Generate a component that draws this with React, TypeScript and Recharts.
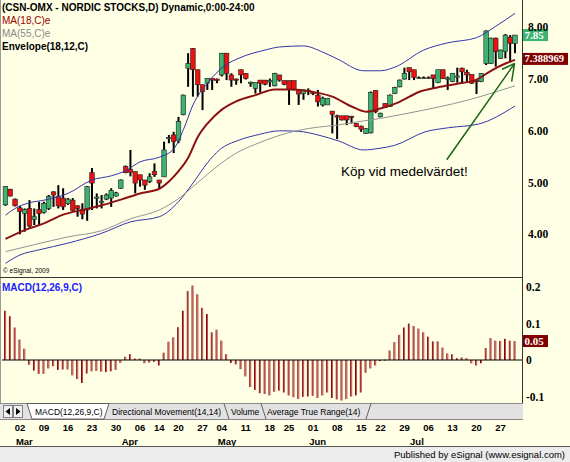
import React from 'react';
import { ComposedChart, Bar, Line, XAxis, YAxis, ReferenceLine } from 'recharts';

// ---------------- data ----------------
const candleOpen = [4.57, 4.87, 4.68, 4.51, 4.40, 4.50, 4.29, 4.48, 4.42, 4.50,
  4.82, 4.73, 4.70, 4.59, 4.66, 4.55, 4.48, 4.47, 5.19, 4.70,
  4.62, 4.68, 4.70, 4.74, 4.89, 5.31, 5.25, 5.21, 5.15, 5.05,
  5.02, 5.21, 5.05, 5.11, 5.85, 5.92, 5.82, 6.31, 7.21, 7.59,
  7.18, 6.89, 6.92, 7.01, 7.00, 7.08, 7.50, 7.08, 7.00, 7.18,
  7.11, 6.93, 6.82, 6.98, 6.98, 6.95, 6.87, 7.08, 6.97, 6.97,
  6.97, 6.79, 6.72, 6.76, 6.74, 6.69, 6.50, 6.50, 6.38, 6.29,
  6.29, 6.29, 6.28, 6.14, 6.09, 5.95, 5.96, 6.78, 6.27, 6.53,
  6.47, 6.72, 6.85, 7.00, 7.22, 7.18, 7.03, 7.03, 7.03, 7.08,
  6.93, 7.18, 7.00, 6.95, 7.05, 7.21, 7.13, 7.09, 6.97, 6.95,
  7.30, 7.30, 7.79, 7.40, 7.53, 7.81, 7.69];
const candleHigh = [4.93, 4.88, 4.69, 4.55, 4.50, 4.66, 4.50, 4.63, 4.63, 4.76,
  4.83, 4.95, 4.89, 4.70, 4.70, 4.56, 4.60, 4.93, 5.28, 4.79,
  4.76, 4.79, 4.89, 4.82, 5.06, 5.33, 5.63, 5.21, 5.15, 5.05,
  5.18, 5.37, 5.05, 5.79, 5.92, 5.98, 6.27, 6.70, 7.50, 7.60,
  7.18, 6.89, 7.01, 7.01, 7.01, 7.50, 7.50, 7.11, 7.01, 7.18,
  7.11, 6.95, 6.93, 6.98, 6.98, 7.01, 7.12, 7.08, 6.97, 6.97,
  6.97, 6.79, 6.79, 6.82, 6.75, 6.79, 6.66, 6.63, 6.38, 6.31,
  6.29, 6.29, 6.29, 6.15, 6.10, 6.05, 6.76, 6.78, 6.35, 6.53,
  6.70, 6.85, 6.99, 7.22, 7.22, 7.18, 7.05, 7.05, 7.05, 7.08,
  7.18, 7.18, 7.05, 7.11, 7.22, 7.22, 7.18, 7.09, 6.98, 7.11,
  7.94, 7.80, 7.80, 7.57, 7.87, 7.85, 7.85];
const candleLow = [4.55, 4.73, 4.54, 4.00, 4.05, 4.13, 4.18, 4.18, 4.40, 4.47,
  4.53, 4.50, 4.47, 4.57, 4.45, 4.34, 4.29, 4.26, 4.47, 4.50,
  4.50, 4.66, 4.53, 4.73, 4.88, 5.18, 5.12, 4.79, 4.92, 4.86,
  4.99, 5.11, 4.89, 5.11, 5.76, 5.57, 5.76, 6.30, 6.85, 6.66,
  6.66, 6.40, 6.79, 6.79, 6.92, 7.05, 6.98, 6.85, 6.89, 6.92,
  6.99, 6.85, 6.72, 6.74, 6.88, 6.85, 6.86, 6.95, 6.88, 6.50,
  6.78, 6.50, 6.60, 6.69, 6.69, 6.47, 6.47, 6.50, 5.95, 5.84,
  6.20, 6.11, 6.14, 6.07, 5.98, 5.94, 5.95, 6.34, 6.26, 6.44,
  6.46, 6.71, 6.84, 6.99, 6.98, 6.98, 7.02, 7.02, 7.02, 6.82,
  6.92, 7.00, 6.79, 6.94, 6.93, 6.92, 6.95, 6.91, 6.71, 6.94,
  7.27, 7.29, 7.24, 7.39, 7.40, 7.32, 7.50];
const candleClose = [4.92, 4.74, 4.55, 4.44, 4.48, 4.16, 4.34, 4.40, 4.60, 4.73,
  4.76, 4.55, 4.53, 4.68, 4.46, 4.50, 4.39, 4.92, 4.99, 4.72,
  4.64, 4.76, 4.85, 4.80, 5.05, 5.19, 5.20, 4.99, 5.05, 4.95,
  5.11, 5.15, 4.99, 5.63, 5.87, 5.79, 6.18, 6.69, 7.30, 7.18,
  6.89, 6.76, 7.01, 6.98, 6.97, 7.50, 7.11, 6.98, 6.99, 7.08,
  7.01, 6.94, 6.93, 6.92, 6.90, 6.97, 7.11, 6.98, 6.90, 6.80,
  6.80, 6.71, 6.79, 6.78, 6.72, 6.56, 6.63, 6.63, 6.32, 6.28,
  6.21, 6.21, 6.26, 6.08, 6.03, 6.04, 6.74, 6.37, 6.34, 6.45,
  6.69, 6.84, 6.98, 7.11, 7.14, 7.03, 7.03, 7.03, 7.03, 7.01,
  7.18, 7.01, 7.02, 7.11, 7.06, 7.14, 7.08, 6.92, 6.96, 7.11,
  7.93, 7.79, 7.53, 7.56, 7.85, 7.69, 7.85];

const macdHist = [0.135, 0.120, 0.089, 0.056, 0.031, -0.013, -0.029, -0.038, -0.038, -0.023,
  -0.017, -0.027, -0.026, -0.026, -0.042, -0.052, -0.063, -0.037, -0.031, -0.030,
  -0.032, -0.033, -0.031, -0.027, -0.008, 0.009, 0.016, 0.004, 0.004, -0.009,
  -0.007, -0.005, -0.015, 0.020, 0.050, 0.062, 0.090, 0.135, 0.189, 0.204,
  0.180, 0.143, 0.126, 0.076, 0.083, 0.053, 0.016, -0.008, -0.012, -0.025,
  -0.045, -0.074, -0.082, -0.091, -0.093, -0.097, -0.087, -0.084, -0.089, -0.097,
  -0.102, -0.107, -0.101, -0.100, -0.098, -0.104, -0.097, -0.089, -0.104, -0.108,
  -0.111, -0.107, -0.100, -0.097, -0.089, -0.035, -0.023, -0.015, -0.003, 0.001,
  0.026, 0.049, 0.069, 0.089, 0.100, 0.093, 0.086, 0.076, 0.064, 0.051,
  0.051, 0.034, 0.018, 0.016, 0.005, 0.007, 0.005, -0.009, -0.015, -0.009,
  0.033, 0.060, 0.053, 0.052, 0.058, 0.053, 0.052];

// line readings: [bar index, value]
const ma18Points = [[0, 3.91], [4, 4.08], [8, 4.21], [12, 4.38], [16, 4.47], [20, 4.56], [24, 4.67],
  [28, 4.79], [32, 4.88], [34, 5.02], [36, 5.22], [38, 5.48], [40, 5.88], [42, 6.14], [45, 6.41],
  [48, 6.57], [52, 6.69], [56, 6.80], [60, 6.80], [64, 6.75], [68, 6.66], [72, 6.47], [75, 6.37],
  [78, 6.43], [82, 6.56], [86, 6.75], [90, 6.84], [94, 6.91], [98, 6.99], [101, 7.16], [104, 7.30], [106, 7.37]];
const ma55Points = [[0, 3.665], [6, 3.80], [13, 3.95], [20, 4.07], [26, 4.30], [32, 4.47], [36, 4.69],
  [40, 5.00], [44, 5.31], [48, 5.57], [52, 5.74], [56, 5.88], [61, 6.01], [65, 6.07], [69, 6.11],
  [73, 6.17], [78, 6.24], [81, 6.29], [87, 6.40], [93, 6.52], [98, 6.64], [106, 6.87]];
const upperEnvPoints = [[0, 4.37], [2, 4.50], [5, 4.61], [8, 4.66], [13, 4.79], [18, 5.05], [22, 5.13],
  [25, 5.23], [28, 5.40], [32, 5.49], [35, 5.65], [37, 6.02], [39, 6.50], [42, 6.92], [45.5, 7.25],
  [49, 7.42], [54, 7.56], [57, 7.62], [62, 7.64], [66, 7.52], [69, 7.39], [74.5, 7.16], [78, 7.16],
  [81, 7.23], [87, 7.56], [92, 7.70], [98, 7.80], [102, 8.02], [106, 8.27]];
const lowerEnvPoints = [[0, 3.44], [3, 3.60], [7, 3.70], [13, 3.83], [20, 4.02], [26, 4.24], [32, 4.34],
  [36, 4.63], [39, 4.99], [42, 5.38], [44.5, 5.63], [48.6, 5.82], [52.8, 5.93], [57, 6.00], [61, 5.99],
  [65, 5.92], [69.4, 5.80], [74.5, 5.63], [77.7, 5.66], [81, 5.72], [87.3, 5.98], [92.2, 6.06],
  [98.4, 6.13], [106, 6.48]];

const priceTicks = [4, 5, 6, 7, 8];
const macdTicks = [-0.1, 0, 0.1, 0.2];
const dayTickIdx = [3, 8, 13, 18, 23, 28, 32, 36, 41, 45, 50, 55, 59, 64, 69, 74, 78, 83, 88, 93, 98, 103];
const dayTickLabels = ['02', '09', '16', '23', '30', '06', '14', '20', '27', '04', '11', '18', '25', '01', '08', '15', '22', '29', '06', '13', '20', '27'];
const monthTickIdx = [3, 25, 45, 64, 85];
const monthLabels = ['Mar', 'Apr', 'May', 'Jun', 'Jul'];
const ma18LastLabel = '7.388969';
const ma18LastValue = 7.388969;
const lastCloseLabel = '7.85';
const macdLastLabel = '0.05';

// arrow annotation (data coordinates)
const arrowStart = { x: 91.8, y: 5.44 };
const arrowTip = { x: 105.9, y: 7.3 };
const arrowBarbA = { x: 103.3, y: 7.19 };
const arrowBarbB = { x: 105.3, y: 6.95 };

// --------------- built tables ---------------
const candleData = candleOpen.map((o, i) => ({
  i, o, h: candleHigh[i], l: candleLow[i], c: candleClose[i], range: [candleLow[i], candleHigh[i]],
}));
const macdData = macdHist.map((m, i) => ({ i, m }));
const toSeries = (pts: number[][]) => pts.map(([i, v]) => ({ i, v }));
const ma18Data = toSeries(ma18Points);
const ma55Data = toSeries(ma55Points);
const upperData = toSeries(upperEnvPoints);
const lowerData = toSeries(lowerEnvPoints);
const dateTicks = Array.from(new Set([...dayTickIdx, ...monthTickIdx])).sort((a, b) => a - b);

// --------------- style ---------------
const BG = '#FFFFE6';
const SANS = '"Liberation Sans", Arial, sans-serif';
const SERIF = '"Liberation Serif", "Times New Roman", serif';
const GREEN = '#3cb371';
const RED = '#ee1111';
const X_DOMAIN: [number, number] = [-0.73, 107.66];
const PRICE_DOMAIN: [number, number] = [3.175, 8.5275];
const MACD_DOMAIN: [number, number] = [-0.1205, 0.2192];

const Candle = (props: any) => {
  const { x, y, width, height, payload } = props;
  if (x == null || y == null || !payload) return null;
  const { o, h, l, c } = payload;
  const cx = x + width / 2;
  const hh = Math.abs(height);
  const top0 = Math.min(y, y + height);
  const span = h - l;
  const toY = (v: number) => (span > 0 ? top0 + ((h - v) / span) * hh : top0);
  const bTop = toY(Math.max(o, c));
  const bBot = toY(Math.min(o, c));
  const flat = Math.abs(c - o) < 0.005;
  const fill = flat ? '#000' : c > o ? GREEN : RED;
  return (
    <g>
      <rect x={cx - 1} y={top0} width={2} height={Math.max(1, hh)} fill="#000" />
      <rect x={cx - 2.3} y={bTop} width={4.6} height={Math.max(1.2, bBot - bTop)} fill={fill}
        stroke={flat ? 'none' : '#222'} strokeWidth={0.6} />
    </g>
  );
};

const MacdBar = (props: any) => {
  const { x, y, width, height } = props;
  if (x == null || y == null) return null;
  const top = Math.min(y, y + height);
  const h = Math.max(1, Math.abs(height));
  const cx = x + width / 2;
  return (
    <g>
      <rect x={cx - 1} y={top} width={1} height={h} fill="#8b0000" />
      <rect x={cx} y={top} width={1} height={h} fill="#b85050" />
    </g>
  );
};

const PriceTick = (props: any) => {
  const { x, y, payload } = props;
  return (
    <text x={x} y={y} dominantBaseline="central" textAnchor="start" fontFamily={SERIF}
      fontWeight="bold" fontSize={11.5} fill="#000">{Number(payload.value).toFixed(2)}</text>
  );
};

const MacdTick = (props: any) => {
  const { x, y, payload } = props;
  const v = Number(payload.value);
  return (
    <text x={x} y={y} dominantBaseline="central" textAnchor="start" fontFamily={SERIF}
      fontWeight="bold" fontSize={11.5} fill="#000">{v === 0 ? '0' : String(v)}</text>
  );
};

const DateTick = (props: any) => {
  const { x, y, payload } = props;
  const i = payload.value;
  const di = dayTickIdx.indexOf(i);
  const mi = monthTickIdx.indexOf(i);
  return (
    <g>
      {di >= 0 && (
        <text x={x} y={y + 23} textAnchor="middle" dominantBaseline="central" fontFamily={SANS}
          fontWeight="bold" fontSize={9.5} fill="#000">{dayTickLabels[di]}</text>
      )}
      {mi >= 0 && (
        <text x={x - 4} y={y + 37} textAnchor="start" dominantBaseline="central" fontFamily={SANS}
          fontWeight="bold" fontSize={9.5} fill="#000">{monthLabels[mi]}</text>
      )}
    </g>
  );
};

const ValueBox = (props: any) => {
  const { viewBox, text, fill, w, fs } = props;
  if (!viewBox) return null;
  const left = viewBox.x + viewBox.width;
  const cy = viewBox.y;
  return (
    <g>
      <rect x={left} y={cy - 6} width={w} height={12} fill={fill} />
      <text x={left + 1.5} y={cy} dominantBaseline="central" fill="#fff" fontFamily={SERIF}
        fontWeight="bold" fontSize={fs || 11.5}>{text}</text>
    </g>
  );
};

const abs = (l: number, t: number, extra: any = {}) => ({ position: 'absolute' as const, left: l, top: t, ...extra });

export default function App() {
  return (
    <div style={{ position: 'fixed', left: 0, top: 0, width: 570, height: 462, background: BG, overflow: 'hidden', fontFamily: SANS }}>
      {/* price panel */}
      <div style={abs(0, 0)}>
        <ComposedChart width={570} height={277} data={candleData} margin={{ top: 0, right: 0, bottom: 0, left: 2 }}>
          <XAxis type="number" dataKey="i" domain={X_DOMAIN} hide allowDataOverflow />
          <YAxis orientation="right" domain={PRICE_DOMAIN} ticks={priceTicks} width={47} axisLine={false}
            tickLine={false} tickSize={0} tickMargin={5} tick={<PriceTick />} allowDataOverflow interval={0} />
          <Line data={upperData} dataKey="v" type="monotone" stroke="#3434a8" strokeWidth={1} dot={false} activeDot={false} isAnimationActive={false} />
          <Line data={lowerData} dataKey="v" type="monotone" stroke="#3434a8" strokeWidth={1} dot={false} activeDot={false} isAnimationActive={false} />
          <Line data={ma55Data} dataKey="v" type="monotone" stroke="#939393" strokeWidth={1} dot={false} activeDot={false} isAnimationActive={false} />
          <Line data={ma18Data} dataKey="v" type="monotone" stroke="#8b1212" strokeWidth={2} dot={false} activeDot={false} isAnimationActive={false} />
          <Bar dataKey="range" barSize={4} shape={<Candle />} isAnimationActive={false} />
          <ReferenceLine segment={[arrowStart, arrowTip]} stroke="#176617" strokeWidth={1.5} />
          <ReferenceLine segment={[arrowBarbA, arrowTip]} stroke="#176617" strokeWidth={1.5} />
          <ReferenceLine segment={[arrowBarbB, arrowTip]} stroke="#176617" strokeWidth={1.5} />
          <ReferenceLine y={ma18LastValue} stroke="none" label={<ValueBox text={ma18LastLabel} fill="#800000" w={45} fs={10.5} />} />
          <ReferenceLine y={candleClose[candleClose.length - 1]} stroke="none" label={<ValueBox text={lastCloseLabel} fill={GREEN} w={25} fs={11} />} />
        </ComposedChart>
      </div>

      {/* MACD panel */}
      <div style={abs(0, 278)}>
        <ComposedChart width={570} height={168} data={macdData} margin={{ top: 2, right: 0, bottom: 0, left: 2 }}>
          <XAxis type="number" dataKey="i" domain={X_DOMAIN} ticks={dateTicks} interval={0} height={42}
            axisLine={false} tickLine={false} tickSize={0} tickMargin={0} tick={<DateTick />} allowDataOverflow />
          <YAxis orientation="right" domain={MACD_DOMAIN} ticks={macdTicks} width={47} axisLine={false}
            tickLine={false} tickSize={0} tickMargin={3} tick={<MacdTick />} allowDataOverflow interval={0} />
          <Bar dataKey="m" barSize={2} shape={<MacdBar />} isAnimationActive={false} />
          <ReferenceLine y={0} stroke="#000" strokeWidth={1} />
          <ReferenceLine y={macdHist[macdHist.length - 1]} stroke="none" label={<ValueBox text={macdLastLabel} fill="#800000" w={25} fs={11} />} />
        </ComposedChart>
      </div>

      {/* frame lines */}
      <div style={abs(0, 0, { width: 1, height: 420, background: '#9a9a9a' })} />
      <div style={abs(0, 277, { width: 523, height: 1, background: '#333' })} />
      <div style={abs(522, 0, { width: 1, height: 420, background: '#333' })} />

      {/* legends */}
      <div style={abs(2, 1, { fontSize: 10, fontWeight: 'bold', color: '#000', lineHeight: '13px', whiteSpace: 'nowrap' })}>(CSN-OMX - NORDIC STOCKS,D) Dynamic,0:00-24:00</div>
      <div style={abs(2, 14, { fontSize: 10, color: '#990000', lineHeight: '13px', whiteSpace: 'nowrap' })}>MA(18,C)e</div>
      <div style={abs(2, 27, { fontSize: 10, color: '#8a8a8a', lineHeight: '13px', whiteSpace: 'nowrap' })}>MA(55,C)e</div>
      <div style={abs(2, 40, { fontSize: 10, fontWeight: 'bold', color: '#000', lineHeight: '13px', whiteSpace: 'nowrap' })}>Envelope(18,12,C)</div>
      <div style={abs(3, 266, { fontSize: 6.5, color: '#000', lineHeight: '9px', whiteSpace: 'nowrap' })}>© eSignal, 2009</div>
      <div style={abs(341, 163, { fontSize: 13.5, color: '#000', lineHeight: '17px', whiteSpace: 'nowrap' })}>Köp vid medelvärdet!</div>
      <div style={abs(2, 281, { fontSize: 10, fontWeight: 'bold', color: '#2020ff', lineHeight: '13px', whiteSpace: 'nowrap' })}>MACD(12,26,9,C)</div>

      {/* tab bar */}
      <svg style={abs(0, 403)} width={523} height={17}>
        <rect x={0} y={0} width={523} height={17} fill="#e2e2e2" />
        <line x1={0} y1={0.5} x2={523} y2={0.5} stroke="#8a8a8a" />
        <line x1={0} y1={16.5} x2={523} y2={16.5} stroke="#8a8a8a" />
        <rect x={3.5} y={2.5} width={9} height={12} fill="#f0f0f0" stroke="#808080" />
        <path d="M10 5 L5.5 8.5 L10 12 Z" fill="#000" />
        <rect x={13.5} y={2.5} width={9} height={12} fill="#f0f0f0" stroke="#808080" />
        <path d="M16 5 L20.5 8.5 L16 12 Z" fill="#000" />
        <polygon points="27,0.5 32,16 104,16 109,0.5" fill="#ffffff" stroke="#404040" strokeWidth={0.8} />
        <line x1={224} y1={0.5} x2={229} y2={16} stroke="#404040" strokeWidth={0.8} />
        <line x1={261} y1={0.5} x2={266} y2={16} stroke="#404040" strokeWidth={0.8} />
        <line x1={371} y1={0.5} x2={366} y2={16} stroke="#404040" strokeWidth={0.8} />
        <text x={35} y={9} dominantBaseline="central" fontFamily={SANS} fontSize={8.5} fill="#000">MACD(12,26,9,C)</text>
        <text x={112} y={9} dominantBaseline="central" fontFamily={SANS} fontSize={8.5} fill="#000">Directional Movement(14,14)</text>
        <text x={231} y={9} dominantBaseline="central" fontFamily={SANS} fontSize={8.5} fill="#000">Volume</text>
        <text x={267} y={9} dominantBaseline="central" fontFamily={SANS} fontSize={8.5} fill="#000">Average True Range(14)</text>
      </svg>

      {/* status bar */}
      <div style={abs(0, 446, { width: 570, height: 16, background: '#ececec', borderTop: '1px solid #555', boxSizing: 'border-box' })} />
      <div style={abs(300, 447, { width: 265, textAlign: 'right', fontSize: 9.5, lineHeight: '15px', color: '#000', whiteSpace: 'nowrap' })}>Published by eSignal (www.esignal.com)</div>
    </div>
  );
}
